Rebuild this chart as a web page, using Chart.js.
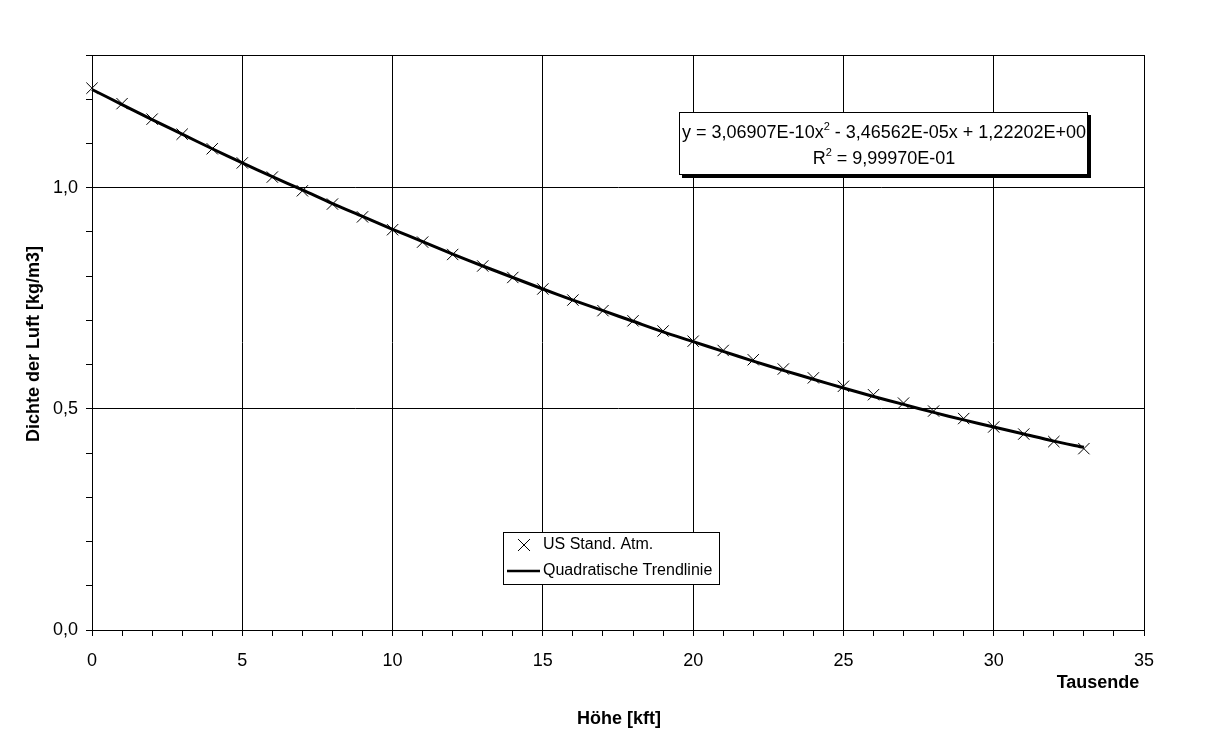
<!DOCTYPE html>
<html><head><meta charset="utf-8">
<script src="https://cdn.jsdelivr.net/npm/chart.js@4"></script>
<style>html,body{margin:0;padding:0;background:#fff;}#wrap{width:1210px;height:754px;position:relative;}</style>
</head><body><div id="wrap"><canvas id="c" width="1210" height="754"></canvas></div>
<script>
// Höhe in kft (Tausende)
const altitudeKft = [0,1,2,3,4,5,6,7,8,9,10,11,12,13,14,15,16,17,18,19,20,21,22,23,24,25,26,27,28,29,30,31,32,33];
// US Standard Atmosphere density [kg/m3]
const densityUS = [1.225,1.190,1.155,1.121,1.088,1.056,1.024,0.993,0.963,0.934,0.905,0.877,0.849,0.823,0.797,0.771,0.746,0.722,0.699,0.676,0.653,0.632,0.611,0.590,0.570,0.551,0.532,0.513,0.495,0.478,0.459,0.443,0.426,0.410];
// quadratic trendline values read at each kft
const trendValues = [1.222,1.188,1.154,1.121,1.088,1.056,1.025,0.995,0.964,0.935,0.906,0.878,0.850,0.823,0.797,0.771,0.746,0.722,0.698,0.674,0.652,0.630,0.608,0.587,0.567,0.547,0.528,0.510,0.492,0.475,0.459,0.443,0.427,0.413];
const xMajorLabels = [0,5,10,15,20,25,30,35];
const yMajorLabels = [0.0,0.5,1.0];
const seriesNames = ['US Stand. Atm.','Quadratische Trendlinie'];
const eqText = ['y = 3,06907E-10x','2',' - 3,46562E-05x + 1,22202E+00'];
const r2Text = ['R','2',' = 9,99970E-01'];
const xTitle = 'Höhe [kft]';
const xSubTitle = 'Tausende';
const yTitle = 'Dichte der Luft [kg/m3]';

const FONT = '"Liberation Sans", Arial, sans-serif';
const isMajorX = v => xMajorLabels.some(m => Math.abs(m - v) < 1e-6);
const isMajorY = v => yMajorLabels.some(m => Math.abs(m - v) < 1e-6);

const decor = {
  id: 'decor',
  afterDraw(chart) {
    const ctx = chart.ctx, a = chart.chartArea;
    ctx.save();
    // plot frame
    ctx.strokeStyle = '#000'; ctx.lineWidth = 1;
    ctx.strokeRect(Math.round(a.left)+0.5, Math.round(a.top)+0.5, Math.round(a.right-a.left), Math.round(a.bottom-a.top));
    // titles
    ctx.fillStyle = '#000';
    ctx.font = 'bold 18px ' + FONT;
    ctx.textAlign = 'center'; ctx.textBaseline = 'middle';
    ctx.fillText(xTitle, 619, 719);
    ctx.fillText(xSubTitle, 1098, 683);
    ctx.save();
    ctx.translate(34, 344); ctx.rotate(-Math.PI/2);
    ctx.fillText(yTitle, 0, 0);
    ctx.restore();

    // equation box
    const bx = 679, by = 112, bw = 408, bh = 62;
    ctx.fillStyle = '#000';
    ctx.fillRect(bx+3, by+3, bw+1, bh+1);
    ctx.fillStyle = '#fff';
    ctx.fillRect(bx, by, bw, bh);
    ctx.strokeRect(bx+0.5, by+0.5, bw, bh);
    ctx.fillStyle = '#000';
    const drawSup = (parts, cx, base) => {
      ctx.font = '18px ' + FONT;
      const w0 = ctx.measureText(parts[0]).width;
      const w2 = ctx.measureText(parts[2]).width;
      ctx.font = '11px ' + FONT;
      const w1 = ctx.measureText(parts[1]).width;
      let x = cx - (w0 + w1 + w2) / 2;
      ctx.textAlign = 'left'; ctx.textBaseline = 'alphabetic';
      ctx.font = '18px ' + FONT; ctx.fillText(parts[0], x, base); x += w0;
      ctx.font = '11px ' + FONT; ctx.fillText(parts[1], x, base - 8); x += w1;
      ctx.font = '18px ' + FONT; ctx.fillText(parts[2], x, base);
    };
    drawSup(eqText, bx + bw/2 + 1, 138);
    drawSup(r2Text, bx + bw/2 + 1, 164);

    // legend box
    const lx = 503, ly = 532, lw = 216, lh = 52;
    ctx.fillStyle = '#fff'; ctx.fillRect(lx, ly, lw, lh);
    ctx.strokeStyle = '#000'; ctx.lineWidth = 1; ctx.strokeRect(lx+0.5, ly+0.5, lw, lh);
    // marker
    ctx.beginPath();
    ctx.moveTo(518, 539); ctx.lineTo(530, 551);
    ctx.moveTo(530, 539); ctx.lineTo(518, 551);
    ctx.lineWidth = 1; ctx.stroke();
    // line
    ctx.beginPath(); ctx.moveTo(507, 571); ctx.lineTo(540, 571); ctx.lineWidth = 2.5; ctx.stroke();
    ctx.fillStyle = '#000';
    ctx.font = '16px ' + FONT; ctx.textAlign = 'left'; ctx.textBaseline = 'middle';
    ctx.fillText(seriesNames[0], 543, 545);
    ctx.fillText(seriesNames[1], 543, 571);
    ctx.restore();
  }
};

new Chart(document.getElementById('c'), {
  type: 'scatter',
  data: {
    datasets: [
      {
        label: seriesNames[1],
        data: altitudeKft.map((x, i) => ({x, y: trendValues[i]})),
        showLine: true, borderColor: '#000', borderWidth: 3, pointRadius: 0, tension: 0.3, order: 2, clip: false
      },
      {
        label: seriesNames[0],
        data: altitudeKft.map((x, i) => ({x, y: densityUS[i]})),
        showLine: false, pointStyle: 'crossRot', pointRadius: 8, borderColor: '#000', borderWidth: 1, order: 1, clip: false
      }
    ]
  },
  options: {
    responsive: false, animation: false, devicePixelRatio: 1,
    layout: { padding: { left: 0, top: 55, right: 66, bottom: 0 } },
    plugins: { legend: { display: false }, tooltip: { enabled: false } },
    scales: {
      x: {
        type: 'linear', min: 0, max: 35,
        afterFit(s) { s.height = 124; },
        ticks: {
          stepSize: 1, autoSkip: false, maxRotation: 0, color: '#000', padding: 14,
          font: { family: FONT, size: 18 },
          callback: v => isMajorX(v) ? String(v) : ''
        },
        grid: {
          color: c => (c.tick && isMajorX(c.tick.value)) ? '#000' : 'rgba(0,0,0,0)',
          tickColor: '#000', tickLength: 6, lineWidth: 1, drawOnChartArea: true
        },
        border: { color: '#000', width: 1 }
      },
      y: {
        type: 'linear', min: 0, max: 1.3,
        afterFit(s) { s.width = 92; },
        ticks: {
          stepSize: 0.1, autoSkip: false, color: '#000', padding: 8,
          font: { family: FONT, size: 18 },
          callback: v => isMajorY(v) ? v.toFixed(1).replace('.', ',') : ''
        },
        grid: {
          color: c => (c.tick && isMajorY(c.tick.value)) ? '#000' : 'rgba(0,0,0,0)',
          tickColor: '#000', tickLength: 6, lineWidth: 1, drawOnChartArea: true
        },
        border: { color: '#000', width: 1 }
      }
    }
  },
  plugins: [decor]
});
</script></body></html>
